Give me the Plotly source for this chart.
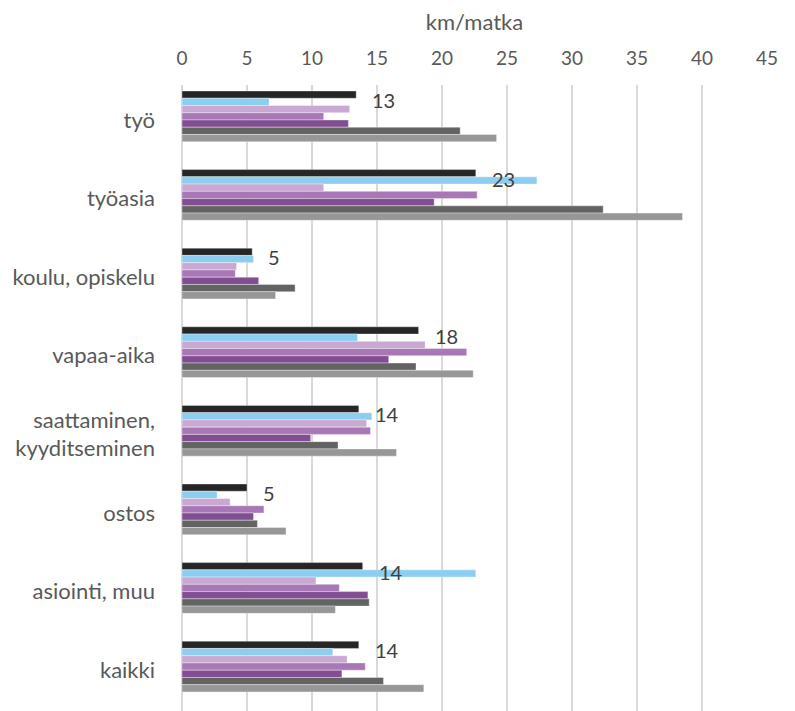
import plotly.graph_objects as go

categories = ["työ", "työasia", "koulu, opiskelu", "vapaa-aika",
              "saattaminen,<br>kyyditseminen", "ostos", "asiointi, muu", "kaikki"]

series_names = ["S1", "S2", "S3", "S4", "S5", "S6", "S7"]
s1 = [13.4, 22.6, 5.4, 18.2, 13.6, 5.0, 13.9, 13.6]
s2 = [6.7, 27.3, 5.5, 13.5, 14.6, 2.7, 22.6, 11.6]
s3 = [12.9, 10.9, 4.2, 18.7, 14.2, 3.7, 10.3, 12.7]
s4 = [10.9, 22.7, 4.1, 21.9, 14.5, 6.3, 12.1, 14.1]
s5 = [12.8, 19.4, 5.9, 15.9, 9.9, 5.5, 14.3, 12.3]
s6 = [21.4, 32.4, 8.7, 18.0, 12.0, 5.8, 14.4, 15.5]
s7 = [24.2, 38.5, 7.2, 22.4, 16.5, 8.0, 11.8, 18.6]

colors = ["#262626", "#8DCDEF", "#C9A9D2", "#A878B6", "#824E92", "#636363", "#979797"]

all_series = [s1, s2, s3, s4, s5, s6, s7]

fig = go.Figure()
for name, vals, col in zip(series_names, all_series, colors):
    fig.add_trace(go.Bar(
        y=categories, x=vals, orientation="h", name=name,
        marker=dict(color=col, line=dict(color="rgba(255,255,255,0.6)", width=0.6)),
        showlegend=False,
    ))
# empty placeholder series (keeps the group layout of the original)
fig.add_trace(go.Bar(y=categories, x=[0] * len(categories), orientation="h",
                     marker=dict(color="rgba(0,0,0,0)", line=dict(width=0)),
                     showlegend=False, hoverinfo="skip"))

annotations = []
for cat, v in zip(categories, s1):
    annotations.append(dict(
        x=v, y=cat, xref="x", yref="y", text=f"{v:.0f}", showarrow=False,
        xanchor="left", yanchor="middle", xshift=14, yshift=20,
        font=dict(family="Lato, Open Sans, sans-serif", size=20, color="#404040"),
    ))

fig.update_layout(
    width=787, height=703,
    margin=dict(l=174, r=28, t=77, b=0),
    paper_bgcolor="white", plot_bgcolor="white",
    barmode="group", bargap=0.262, bargroupgap=0,
    font=dict(family="Lato, Open Sans, sans-serif", color="#595959"),
    annotations=annotations,
    xaxis=dict(
        side="top", range=[0, 45], dtick=5, tick0=0, automargin=False,
        showgrid=True, gridcolor="#D9D9D9", gridwidth=2,
        zeroline=True, zerolinecolor="#D9D9D9", zerolinewidth=2,
        showline=False, ticks="", ticklabelstandoff=15,
        tickfont=dict(size=19, color="#595959"),
        title=dict(text="km/matka", font=dict(size=22, color="#595959"), standoff=15),
    ),
    yaxis=dict(
        type="category", range=[7.519, -0.445], automargin=False,
        showgrid=False, zeroline=False, showline=False, ticks="",
        ticklabelstandoff=26,
        tickfont=dict(size=22, color="#595959"),
    ),
)

fig.write_html("out.html")
